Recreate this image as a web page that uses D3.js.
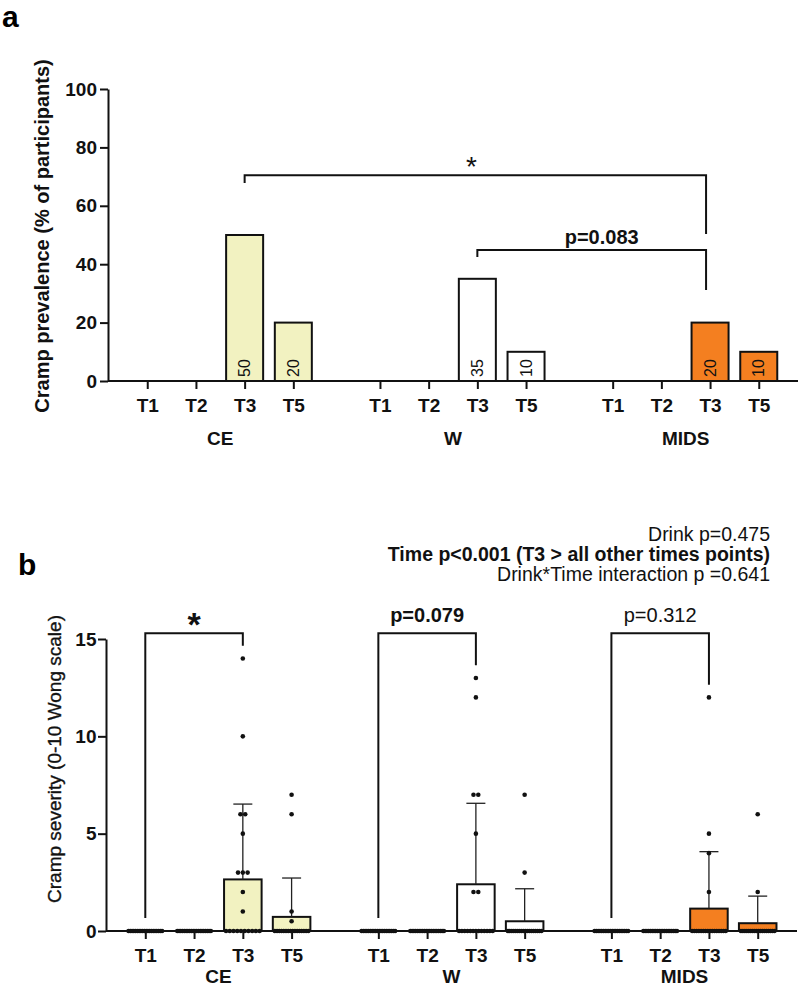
<!DOCTYPE html>
<html>
<head>
<meta charset="utf-8">
<script src="https://cdn.jsdelivr.net/npm/d3@7.9.0/dist/d3.min.js"></script>
<style>
  body { margin: 0; background: #fff; }
  svg { display: block; font-family: "Liberation Sans", Arial, sans-serif; }
  .axis path, .axis line { stroke: #111; stroke-width: 2; }
  .axis text { font-size: 19px; font-weight: bold; fill: #111; }
</style>
</head>
<body>
<svg id="chart" width="800" height="988"></svg>
<script>
// categories
const groups = ["CE", "W", "MIDS"];
const times = ["T1", "T2", "T3", "T5"];
const colors = { CE: "#f2f2c1", W: "#ffffff", MIDS: "#f47f20" };

// panel a: cramp prevalence (% of participants)
const prevCE = [0, 0, 50, 20];
const prevW = [0, 0, 35, 10];
const prevMIDS = [0, 0, 20, 10];
const prevTicks = [0, 20, 40, 60, 80, 100];

// panel b: individual severity scores (n = 20 per cell)
const sevCE_T1 = [0,0,0,0,0,0,0,0,0,0,0,0,0,0,0,0,0,0,0,0];
const sevCE_T2 = [0,0,0,0,0,0,0,0,0,0,0,0,0,0,0,0,0,0,0,0];
const sevCE_T3 = [14,10,6,6,5,3,3,3,2,1,0,0,0,0,0,0,0,0,0,0];
const sevCE_T5 = [7,6,1,0.5,0,0,0,0,0,0,0,0,0,0,0,0,0,0,0,0];
const sevW_T1 = [0,0,0,0,0,0,0,0,0,0,0,0,0,0,0,0,0,0,0,0];
const sevW_T2 = [0,0,0,0,0,0,0,0,0,0,0,0,0,0,0,0,0,0,0,0];
const sevW_T3 = [13,12,7,7,5,2,2,0,0,0,0,0,0,0,0,0,0,0,0,0];
const sevW_T5 = [7,3,0,0,0,0,0,0,0,0,0,0,0,0,0,0,0,0,0,0];
const sevMIDS_T1 = [0,0,0,0,0,0,0,0,0,0,0,0,0,0,0,0,0,0,0,0];
const sevMIDS_T2 = [0,0,0,0,0,0,0,0,0,0,0,0,0,0,0,0,0,0,0,0];
const sevMIDS_T3 = [12,5,4,2,0,0,0,0,0,0,0,0,0,0,0,0,0,0,0,0];
const sevMIDS_T5 = [6,2,0,0,0,0,0,0,0,0,0,0,0,0,0,0,0,0,0,0];
const sevTicks = [0, 5, 10, 15];

const statsLines = [
  { text: "Drink p=0.475", bold: false },
  { text: "Time p<0.001 (T3 > all other times points)", bold: true },
  { text: "Drink*Time interaction p =0.641", bold: false }
];

const prevData = { CE: prevCE, W: prevW, MIDS: prevMIDS };
const sevData = {
  CE: [sevCE_T1, sevCE_T2, sevCE_T3, sevCE_T5],
  W: [sevW_T1, sevW_T2, sevW_T3, sevW_T5],
  MIDS: [sevMIDS_T1, sevMIDS_T2, sevMIDS_T3, sevMIDS_T5]
};

const svg = d3.select("#chart");
svg.append("rect").attr("width", 800).attr("height", 988).attr("fill", "#fff");

// shared helper: grouped x axis (one small point axis per group)
function groupAxis(g, x0, xi, y0, labelY) {
  groups.forEach(grp => {
    const ax = g.append("g").attr("class", "axis")
      .attr("transform", `translate(${x0(grp)},${y0})`)
      .call(d3.axisBottom(xi).tickSize(8).tickPadding(9.5));
    ax.select(".domain").remove();
    g.append("text")
      .attr("x", x0(grp) + x0.bandwidth() / 2)
      .attr("y", labelY)
      .attr("text-anchor", "middle")
      .attr("font-size", 19).attr("font-weight", "bold").attr("fill", "#111")
      .text(grp);
  });
  g.append("line")
    .attr("x1", x0.range()[0]).attr("x2", x0.range()[1])
    .attr("y1", y0).attr("y2", y0)
    .attr("stroke", "#111").attr("stroke-width", 2);
}

function bracket(g, pts) {
  g.append("path")
    .attr("d", d3.line()(pts))
    .attr("fill", "none").attr("stroke", "#111").attr("stroke-width", 2);
}

// ---------------- panel a ----------------
const ga = svg.append("g");
const xa0 = d3.scaleBand().domain(groups).range([108, 798]).paddingInner(0.163).paddingOuter(0.064);
const xai = d3.scalePoint().domain(times).range([0, xa0.bandwidth()]).padding(0.5);
const ya = d3.scaleLinear().domain([0, 100]).range([381, 89]);
const barWa = xai.step() * 0.76;
const xa = (grp, t) => xa0(grp) + xai(t);

ga.append("text").attr("x", 2).attr("y", 27)
  .attr("font-size", 30).attr("font-weight", "bold").text("a");

groups.forEach(grp => {
  times.forEach((t, i) => {
    const v = prevData[grp][i];
    if (v <= 0) return;
    ga.append("rect")
      .attr("x", xa(grp, t) - barWa / 2)
      .attr("y", ya(v))
      .attr("width", barWa)
      .attr("height", ya(0) - ya(v))
      .attr("fill", colors[grp]).attr("stroke", "#111").attr("stroke-width", 2);
    ga.append("text")
      .attr("transform", `translate(${xa(grp, t)},${ya(0) - 4}) rotate(-90)`)
      .attr("dy", "0.35em")
      .attr("font-size", 16).attr("fill", "#111")
      .text(v);
  });
});

ga.append("g").attr("class", "axis")
  .attr("transform", "translate(108,0)")
  .call(d3.axisLeft(ya).tickValues(prevTicks).tickSize(8).tickSizeOuter(0).tickPadding(3));

groupAxis(ga, xa0, xai, ya(0), 445);

ga.append("text")
  .attr("transform", `translate(49,${(ya(0) + ya(100)) / 2 + 1}) rotate(-90)`)
  .attr("text-anchor", "middle")
  .attr("font-size", 20).attr("font-weight", "bold").attr("fill", "#111")
  .text("Cramp prevalence (% of participants)");

// significance brackets, panel a
{
  const xL = xa("CE", "T3"), xR = xa("MIDS", "T3") - 4;
  bracket(ga, [[xL, ya(67.8)], [xL, ya(70.5)], [xR, ya(70.5)], [xR, ya(50.3)]]);
  ga.append("text").attr("x", (xL + xR) / 2 - 4).attr("y", 176)
    .attr("text-anchor", "middle").attr("font-size", 28).attr("fill", "#111").text("*");
  const xL2 = xa("W", "T3");
  bracket(ga, [[xL2, ya(42.5)], [xL2, ya(44.9)], [xR, ya(44.9)], [xR, ya(31.2)]]);
  ga.append("text").attr("x", (xL2 + xR) / 2 + 10).attr("y", 244)
    .attr("text-anchor", "middle").attr("font-size", 20).attr("font-weight", "bold")
    .attr("fill", "#111").text("p=0.083");
}

// ---------------- panel b ----------------
const gb = svg.append("g");
const xb0 = d3.scaleBand().domain(groups).range([106, 797]).paddingInner(0.163).paddingOuter(0.064);
const xbi = d3.scalePoint().domain(times).range([0, xb0.bandwidth()]).padding(0.5);
const yb = d3.scaleLinear().domain([0, 15]).range([931, 639]);
const barWb = xbi.step() * 0.77;
const xb = (grp, t) => xb0(grp) + xbi(t);

gb.append("text").attr("x", 18).attr("y", 575)
  .attr("font-size", 30).attr("font-weight", "bold").text("b");

groups.forEach(grp => {
  times.forEach((t, i) => {
    const vals = sevData[grp][i];
    const m = d3.mean(vals);
    const sd = d3.deviation(vals);
    const cx = xb(grp, t);
    const h = Math.max(yb(0) - yb(m), 0.01);
    gb.append("rect")
      .attr("x", cx - barWb / 2).attr("y", yb(0) - h)
      .attr("width", barWb).attr("height", h)
      .attr("fill", colors[grp]).attr("stroke", "#111").attr("stroke-width", 2);
    if (m > 0) {
      gb.append("line").attr("x1", cx).attr("x2", cx)
        .attr("y1", yb(m)).attr("y2", yb(m + sd))
        .attr("stroke", "#222").attr("stroke-width", 1.3);
      gb.append("line").attr("x1", cx - 9.5).attr("x2", cx + 9.5)
        .attr("y1", yb(m + sd)).attr("y2", yb(m + sd))
        .attr("stroke", "#222").attr("stroke-width", 1.3);
    }
    // scatter: spread tied values horizontally
    d3.groups(vals, v => v).forEach(([v, arr]) => {
      const k = arr.length;
      const sp = k > 1 ? Math.min(4.8, (barWb - 4) / (k - 1)) : 0;
      arr.forEach((_, j) => {
        gb.append("circle")
          .attr("cx", cx + (j - (k - 1) / 2) * sp)
          .attr("cy", yb(v))
          .attr("r", 2.3).attr("fill", "#111");
      });
    });
  });
});

gb.append("g").attr("class", "axis")
  .attr("transform", "translate(106,0)")
  .call(d3.axisLeft(yb).tickValues(sevTicks).tickSize(8).tickSizeOuter(0).tickPadding(1.5));

groupAxis(gb, xb0, xbi, yb(0), 983);

gb.append("text")
  .attr("transform", `translate(61,759) rotate(-90)`)
  .attr("text-anchor", "middle")
  .attr("font-size", 19).attr("fill", "#111")
  .attr("stroke", "#111").attr("stroke-width", 0.35)
  .text("Cramp severity (0-10 Wong scale)");

// significance brackets, panel b
const sigB = [
  { grp: "CE", label: "*", bold: true, size: 34, dy: 3 },
  { grp: "W", label: "p=0.079", bold: true, size: 20, dy: -11 },
  { grp: "MIDS", label: "p=0.312", bold: false, size: 20, dy: -11 }
];
sigB.forEach(s => {
  const xL = xb(s.grp, "T1"), xR = xb(s.grp, "T3");
  const top = d3.max(sevData[s.grp][2]) + 0.65;
  bracket(gb, [[xL, yb(0.67)], [xL, yb(15.3)], [xR, yb(15.3)], [xR, yb(top)]]);
  gb.append("text").attr("x", (xL + xR) / 2).attr("y", yb(15.3) + s.dy)
    .attr("text-anchor", "middle").attr("font-size", s.size)
    .attr("font-weight", s.bold ? "bold" : "normal").attr("fill", "#111")
    .text(s.label);
});

// stats summary
statsLines.forEach((d, i) => {
  gb.append("text").attr("x", 770).attr("y", 541 + i * 20)
    .attr("text-anchor", "end").attr("font-size", 19.5)
    .attr("font-weight", d.bold ? "bold" : "normal").attr("fill", "#111")
    .text(d.text);
});
</script>
</body>
</html>
